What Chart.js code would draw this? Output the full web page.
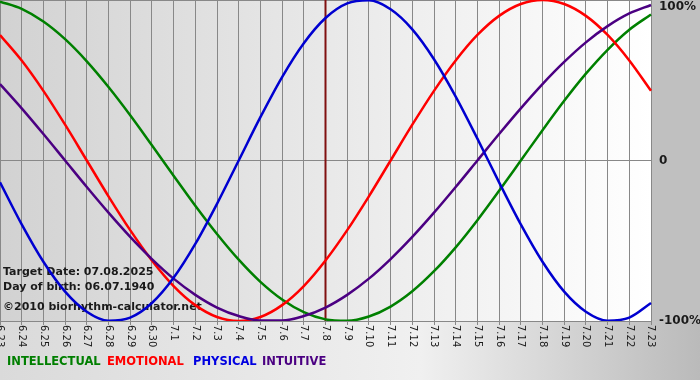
<!DOCTYPE html>
<html>
<head>
<meta charset="utf-8">
<script src="https://cdn.jsdelivr.net/npm/chart.js@4"></script>
<style>
  body { margin: 0; background: #c8c8c8; }
  #wrap { position: relative; width: 700px; height: 380px; }
</style>
</head>
<body>
<div id="wrap"><canvas id="chart"></canvas></div>
<script>
const days = ["6.23", "6.24", "6.25", "6.26", "6.27", "6.28", "6.29", "6.30",
  "7.1", "7.2", "7.3", "7.4", "7.5", "7.6", "7.7", "7.8", "7.9", "7.10", "7.11",
  "7.12", "7.13", "7.14", "7.15", "7.16", "7.17", "7.18", "7.19", "7.20", "7.21",
  "7.22", "7.23"];

// percent
const intellectual = [99.0, 94.5, 86.6, 75.6, 61.8, 45.8, 28.2, 9.5, -9.5, -28.2, -45.8,
  -61.8, -75.6, -86.6, -94.5, -99.0, -99.9, -97.2, -91.0, -81.5, -69.0, -54.1, -37.2,
  -18.9, 0, 18.9, 37.2, 54.1, 69.0, 81.5, 91.0];
const emotional = [78.2, 62.3, 43.4, 22.3, 0, -22.3, -43.4, -62.3, -78.2, -90.1, -97.5,
  -100, -97.5, -90.1, -78.2, -62.3, -43.4, -22.3, 0, 22.3, 43.4, 62.3, 78.2, 90.1, 97.5,
  100, 97.5, 90.1, 78.2, 62.3, 43.4];
const physical = [-13.6, -39.8, -63.1, -81.7, -94.2, -99.8, -97.9, -88.8, -73.1, -52.0,
  -27.0, 0, 27.0, 52.0, 73.1, 88.8, 97.9, 99.8, 94.2, 81.7, 63.1, 39.8, 13.6, -13.6, -39.8,
  -63.1, -81.7, -94.2, -99.8, -97.9, -88.8];
const intuitive = [47.6, 32.5, 16.5, 0, -16.5, -32.5, -47.6, -61.4, -73.6, -83.7, -91.6,
  -96.9, -99.7, -99.7, -96.9, -91.6, -83.7, -73.6, -61.4, -47.6, -32.5, -16.5, 0, 16.5,
  32.5, 47.6, 61.4, 73.6, 83.7, 91.6, 96.9];

const yTicks = [100, 0, -100];
const yTickText = ["100%", "0", "-100%"];
const targetDay = "7.8";
const infoLines = ["Target Date: 07.08.2025", "Day of birth: 06.07.1940", "\u00a92010 biorhythm-calculator.net"];
const legendItems = [
  ["INTELLECTUAL", "#007f00"],
  ["EMOTIONAL", "#ff0000"],
  ["PHYSICAL", "#0000e0"],
  ["INTUITIVE", "#4b0082"],
];

const bgPlugin = {
  id: "bg",
  beforeDraw(chart) {
    const { ctx, chartArea: a, width, height } = chart;
    ctx.save();
    let g = ctx.createLinearGradient(0, 0, width, 0);
    g.addColorStop(0, "#dadada");
    g.addColorStop(0.6, "#f0f0f0");
    g.addColorStop(1, "#bababa");
    ctx.fillStyle = g;
    ctx.fillRect(0, 0, width, height);
    ctx.fillStyle = "#c0c0c0";
    ctx.fillRect(a.right, 0, width - a.right, a.bottom);
    g = ctx.createLinearGradient(a.left, 0, a.right, 0);
    g.addColorStop(0, "#d2d2d2");
    g.addColorStop(1, "#ffffff");
    ctx.fillStyle = g;
    ctx.fillRect(a.left, a.top, a.right - a.left, a.bottom - a.top);
    ctx.restore();
  },
  beforeDatasetsDraw(chart) {
    const { ctx, chartArea: a, scales } = chart;
    ctx.save();
    // target day marker
    const mx = scales.x.getPixelForValue(days.indexOf(targetDay));
    ctx.strokeStyle = "#801010";
    ctx.lineWidth = 2;
    ctx.beginPath();
    ctx.moveTo(mx, a.top);
    ctx.lineTo(mx, a.bottom);
    ctx.stroke();

    // info text
    ctx.fillStyle = "#1a1a1a";
    ctx.font = "bold 11px 'DejaVu Sans'";
    ctx.textBaseline = "middle";
    ctx.fillText(infoLines[0], 3, 272);
    ctx.fillText(infoLines[1], 3, 287);
    ctx.fillText(infoLines[2], 3, 307);
    ctx.restore();
  },
  afterDraw(chart) {
    const { ctx, chartArea: a, scales } = chart;
    ctx.save();
    ctx.fillStyle = "#1a1a1a";
    // x labels, rotated clockwise
    ctx.font = "10px 'DejaVu Sans'";
    ctx.textBaseline = "middle";
    ctx.textAlign = "left";
    days.forEach((d, i) => {
      const x = scales.x.getPixelForValue(i);
      ctx.save();
      ctx.translate(x, a.bottom + 4);
      ctx.rotate(Math.PI / 2);
      ctx.fillText(d, 0, 0);
      ctx.restore();
    });
    // y labels on the right
    ctx.font = "bold 12px 'DejaVu Sans'";
    yTicks.forEach((v, i) => {
      let y = scales.y.getPixelForValue(v);
      y = Math.min(Math.max(y, a.top + 7), a.bottom);
      ctx.fillText(yTickText[i], a.right + 8, y);
    });
    // legend
    ctx.font = "bold 11.5px 'DejaVu Sans'";
    const lx = [7, 107, 193, 262];
    legendItems.forEach(([t, c], i) => {
      ctx.fillStyle = c;
      ctx.fillText(t, lx[i], 362);
    });
    ctx.restore();
  },
};

const lineSet = (label, data, color) => ({
  label, data,
  borderColor: color,
  borderWidth: 2.5,
  pointRadius: 0,
  cubicInterpolationMode: "monotone",
  fill: false,
});

new Chart(document.getElementById("chart"), {
  type: "line",
  data: {
    labels: days,
    datasets: [
      lineSet("PHYSICAL", physical, "#0000d0"),
      lineSet("INTUITIVE", intuitive, "#4b0082"),
      lineSet("EMOTIONAL", emotional, "#ff0000"),
      lineSet("INTELLECTUAL", intellectual, "#008000"),
    ],
  },
  options: {
    responsive: true,
    maintainAspectRatio: false,
    animation: false,
    layout: { padding: { left: 0, right: 49, top: 0, bottom: 55 } },
    plugins: { legend: { display: false }, tooltip: { enabled: false } },
    scales: {
      x: {
        offset: false,
        grid: { color: "#888888", lineWidth: 1, drawTicks: true, tickLength: 4 },
        border: { color: "#888888" },
        ticks: { display: false, autoSkip: false },
      },
      y: {
        position: "right",
        min: -100,
        max: 100,
        ticks: { display: false, stepSize: 100 },
        grid: { color: "#888888", drawTicks: false },
        border: { display: false },
      },
    },
  },
  plugins: [bgPlugin],
});
</script>
</body>
</html>
